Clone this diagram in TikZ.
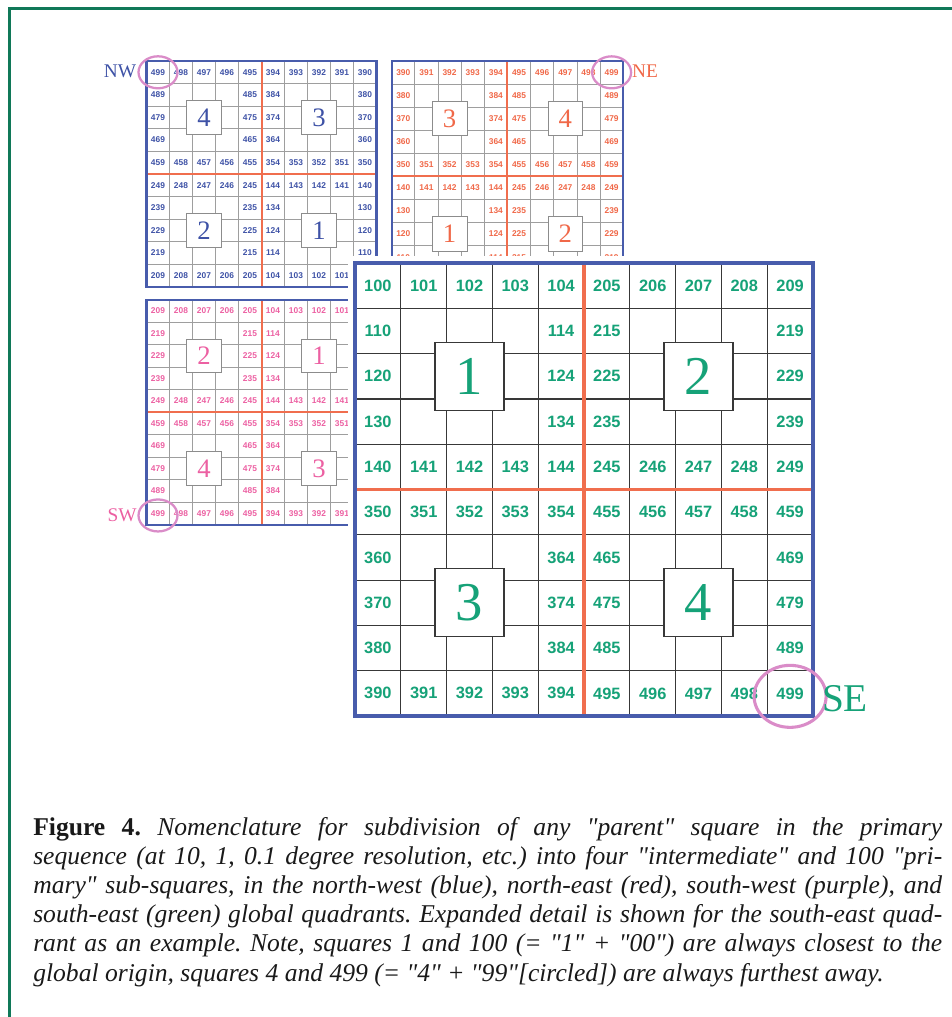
\documentclass[tikz,border=0pt]{standalone}
\usepackage{fontspec}
\newfontfamily\gridsans{Liberation Sans}
\newfontfamily\gridserif{Liberation Serif}
\newfontfamily\capserif{Liberation Serif}
\frenchspacing

\definecolor{framegreen}{RGB}{16,120,88}
\definecolor{gridblue}{RGB}{72,92,172}
\definecolor{numblue}{RGB}{62,82,166}
\definecolor{divred}{RGB}{240,110,78}
\definecolor{numred}{RGB}{240,104,72}
\definecolor{numpink}{RGB}{236,96,162}
\definecolor{numgreen}{RGB}{22,162,120}
\definecolor{ringpink}{RGB}{218,140,200}

% \drawgrid{name}{x0}{y0}{cell width}{cell height}{flip rows}{flip columns}{behind detail}
% Draws a 10x10 square with its four intermediate squares and the border cell numbers.
% With #8 = 1, numbers lying under the expanded south-east square are left out.
\newcommand\drawgrid[8]{%
  \foreach \k in {1,...,9}{
    \draw[gline] ({#2+\k*#4},#3) -- ({#2+\k*#4},{#3+10*#5});
    \draw[gline] (#2,{#3+\k*#5}) -- ({#2+10*#4},{#3+\k*#5});
  }
  \draw[qline] ({#2+5*#4},#3) -- ({#2+5*#4},{#3+10*#5});
  \draw[qline] (#2,{#3+5*#5}) -- ({#2+10*#4},{#3+5*#5});
  \foreach \a in {0,1}{\foreach \b in {0,1}{
    \pgfmathtruncatemacro\boxQ{1 + (#7==1 ? 1-\b : \b) + 2*(#6==1 ? 1-\a : \a)}
    \node[bigbox, minimum width={1.125*#4*1pt}, minimum height={1.125*#5*1pt}]
      (#1-q\boxQ) at ({#2+(5*\b+2.5)*#4},{#3+(5*\a+2.5)*#5}) {\boxQ};
  }}
  \foreach \i in {0,...,9}{\foreach \j in {0,...,9}{
    \pgfmathtruncatemacro\edgeR{(\i==0)||(\i==4)||(\i==5)||(\i==9)}
    \pgfmathtruncatemacro\edgeC{(\j==0)||(\j==4)||(\j==5)||(\j==9)}
    \pgfmathtruncatemacro\underSE{(#8==1)&&((#2+(\j+0.5)*#4)>348)&&((#3+(\i+0.5)*#5)>262)}
    \pgfmathtruncatemacro\showcell{((\edgeR==1)||(\edgeC==1))&&(\underSE==0)}
    \ifnum\showcell=1
      \pgfmathtruncatemacro\cellR{#6==1 ? 9-\i : \i}
      \pgfmathtruncatemacro\cellC{#7==1 ? 9-\j : \j}
      \pgfmathtruncatemacro\cellQ{1 + (\cellC>4) + 2*(\cellR>4)}
      \pgfmathtruncatemacro\cellV{100*\cellQ + 10*\cellR + \cellC}
      \node[cellnum] (#1-\i-\j) at ({#2+(\j+0.5)*#4},{#3+(\i+0.5)*#5}) {\cellV};
    \fi
  }}
  \draw[oframe] (#2,#3) rectangle ({#2+10*#4},{#3+10*#5});
}

\tikzset{
  small grid/.style={
    gline/.style={draw=black!38, line width=0.55pt},
    qline/.style={draw=divred, line width=1.5pt},
    oframe/.style={draw=gridblue, line width=1.6pt},
    bigbox/.style={draw=black!45, line width=0.6pt, fill=white, inner sep=0pt,
      font=\gridserif\fontsize{20}{20}\selectfont},
    cellnum/.style={inner sep=0pt, font=\gridsans\bfseries\fontsize{6.3}{6.3}\selectfont}},
  large grid/.style={
    gline/.style={draw=black!78, line width=0.9pt},
    qline/.style={draw=divred, line width=2.5pt},
    oframe/.style={draw=gridblue, line width=3pt},
    bigbox/.style={draw=black!78, line width=1pt, fill=white, inner sep=0pt,
      text=numgreen, font=\gridserif\fontsize{41}{41}\selectfont},
    cellnum/.style={inner sep=0pt, text=numgreen,
      font=\gridsans\bfseries\fontsize{12.3}{12.3}\selectfont}},
  ring/.style={draw=ringpink, line width=1.7pt},
  quadlabel/.style={inner sep=0pt, font=\gridserif\fontsize{14.5}{14.5}\selectfont},
  capline/.style={anchor=base west, inner sep=0pt, text=black!90,
    font=\capserif\fontsize{19.2}{22}\selectfont}
}

\begin{document}
\begin{tikzpicture}[x=0.75pt,y=-0.75pt]
\useasboundingbox (0,0) rectangle (951,1017);

% page frame
\draw[framegreen, line width=2.5pt] (9.5,1030) -- (9.5,8.3) -- (965,8.3);

% north-west quadrant
\begin{scope}[small grid, cellnum/.append style={text=numblue}, bigbox/.append style={text=numblue}]
  \drawgrid{nw}{146.5}{61}{23}{22.6}{1}{1}{1}
\end{scope}
% north-east quadrant
\begin{scope}[small grid, cellnum/.append style={text=numred}, bigbox/.append style={text=numred}]
  \drawgrid{ne}{391.7}{60.8}{23.15}{23.1}{1}{0}{1}
\end{scope}
% south-west quadrant
\begin{scope}[small grid, cellnum/.append style={text=numpink}, bigbox/.append style={text=numpink}]
  \drawgrid{sw}{146.5}{299.7}{23}{22.5}{0}{1}{1}
\end{scope}

\draw[ring] (nw-0-0) ellipse [x radius=19.5, y radius=16];
\draw[ring] (ne-0-9) ellipse [x radius=19.5, y radius=16];
\draw[ring] ([shift={(0,2)}]sw-9-0) ellipse [x radius=19.5, y radius=16];

\node[quadlabel, text=numblue] (lab-nw) at (120,71) {NW};
\node[quadlabel, text=numred] (lab-ne) at (645,71) {NE};
\node[quadlabel, text=numpink] (lab-sw) at (122,515) {SW};

% expanded south-east quadrant
\fill[white] (348,256) rectangle (820,723);
\begin{scope}[large grid]
  \drawgrid{se}{355}{263}{45.8}{45.3}{0}{0}{0}
\end{scope}
\draw[ring, line width=2.3pt] ([shift={(0,3)}]se-9-9) ellipse [x radius=36, y radius=31];
\node[quadlabel, text=numgreen, font=\gridserif\fontsize{29.5}{29.5}\selectfont] (lab-se) at (845,699) {SE};

% caption
\node[capline] (cap1) at (33,835) {\hbox to 681.75pt{\textbf{Figure 4.} \textit{Nomenclature for subdivision of any "parent" square in the primary}}};
\node[capline] (cap2) at (33,864.2) {\hbox to 681.75pt{\textit{sequence (at 10, 1, 0.1 degree resolution, etc.) into four "intermediate" and 100 "pri-}}};
\node[capline] (cap3) at (33,893.4) {\hbox to 681.75pt{\textit{mary" sub-squares, in the north-west (blue), north-east (red), south-west (purple), and}}};
\node[capline] (cap4) at (33,922.6) {\hbox to 681.75pt{\textit{south-east (green) global quadrants. Expanded detail is shown for the south-east quad-}}};
\node[capline] (cap5) at (33,951.8) {\hbox to 681.75pt{\textit{rant as an example. Note, squares 1 and 100 (= "1" + "00") are always closest to the}}};
\node[capline] (cap6) at (33,981) {\hbox{\textit{global origin, squares 4 and 499 (= "4" + "99"[circled]) are always furthest away.}}};
\end{tikzpicture}
\end{document}
